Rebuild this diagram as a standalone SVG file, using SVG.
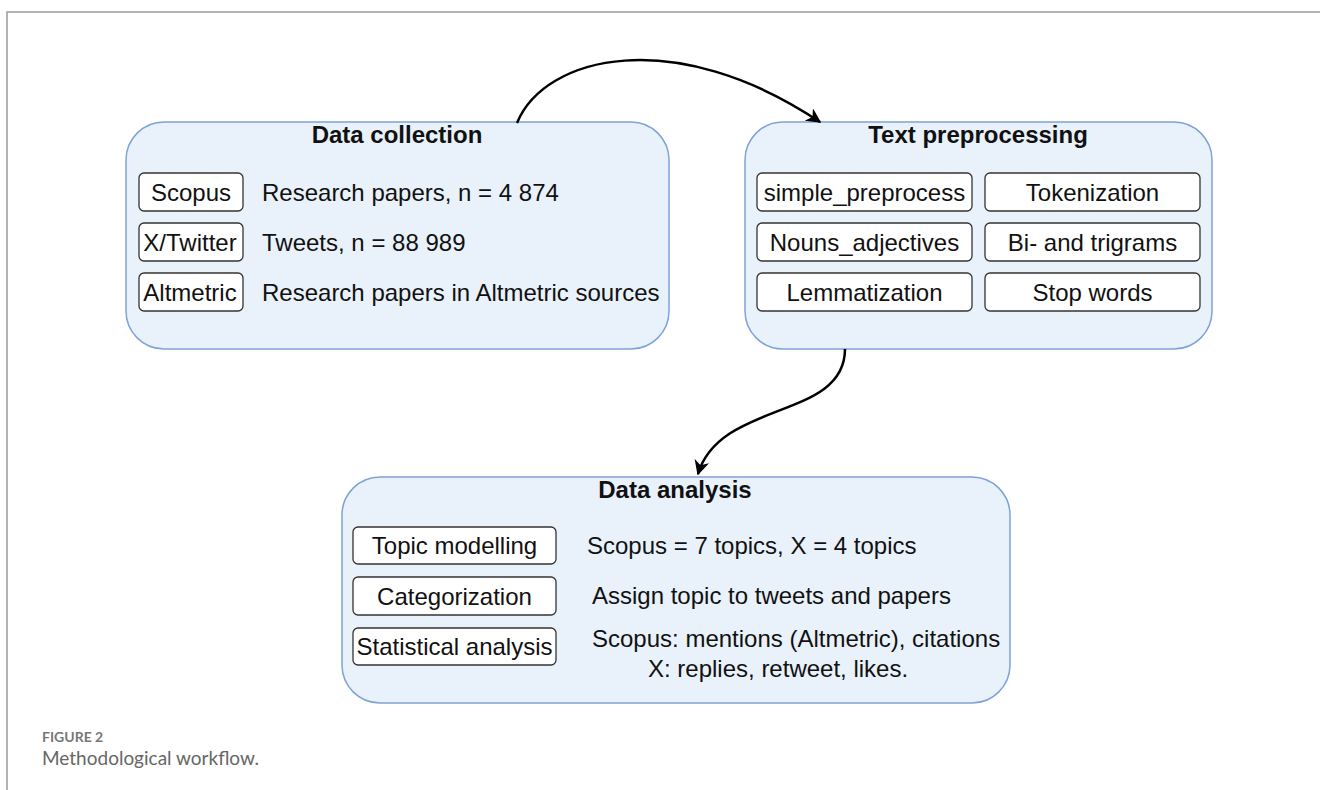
<svg xmlns="http://www.w3.org/2000/svg" width="1320" height="790" viewBox="0 0 1320 790">
<defs>
<style>
.frame{fill:none;stroke:#9a9a9a;stroke-width:1.5}
.grp{fill:#e9f1fb;stroke:#7ea3d6;stroke-width:1.5}
.item{fill:#fff;stroke:#333;stroke-width:1.3}
.t{font-family:"Liberation Sans",Arial,sans-serif;font-size:24px;fill:#111}
.h{font-family:"Liberation Sans",Arial,sans-serif;font-size:24px;font-weight:bold;fill:#111}
.c{text-anchor:middle}
.conn{fill:none;stroke:#000;stroke-width:2.5}
.cap1{font-family:Lato,"Open Sans",sans-serif;font-size:14px;font-weight:bold;fill:#777}
.cap2{font-family:Lato,"Open Sans",sans-serif;font-size:19px;fill:#666}
</style>
<marker id="arr" viewBox="0 0 10 10" refX="9" refY="5" markerWidth="15" markerHeight="15" markerUnits="userSpaceOnUse" orient="auto">
<path d="M0,0 L10,5 L0,10 L3,5 Z" fill="#000"/>
</marker>
</defs>
<rect width="1320" height="790" fill="#fff"/>
<path class="frame" d="M7,790 V12 H1320"/>

<g id="data-collection">
<rect class="grp" x="126" y="122" width="543" height="227" rx="38"/>
<text class="h c" x="397" y="143">Data collection</text>
<rect class="item" x="139" y="173" width="104" height="38" rx="5"/>
<text class="t c" x="191" y="200.5">Scopus</text>
<rect class="item" x="139" y="223" width="104" height="38" rx="5"/>
<text class="t c" x="190" y="251">X/Twitter</text>
<rect class="item" x="139" y="273" width="104" height="38" rx="5"/>
<text class="t c" x="190" y="301">Altmetric</text>
<text class="t" x="262" y="200.5">Research papers, n = 4 874</text>
<text class="t" x="262" y="251">Tweets, n = 88 989</text>
<text class="t" x="262" y="301">Research papers in Altmetric sources</text>
</g>

<g id="text-preprocessing">
<rect class="grp" x="745" y="122" width="467" height="227" rx="38"/>
<text class="h c" x="978" y="143">Text preprocessing</text>
<rect class="item" x="757" y="173" width="215" height="38" rx="5"/>
<text class="t c" x="864.5" y="200.5">simple_preprocess</text>
<rect class="item" x="985" y="173" width="215" height="38" rx="5"/>
<text class="t c" x="1092.5" y="200.5">Tokenization</text>
<rect class="item" x="757" y="223" width="215" height="38" rx="5"/>
<text class="t c" x="864.5" y="251">Nouns_adjectives</text>
<rect class="item" x="985" y="223" width="215" height="38" rx="5"/>
<text class="t c" x="1092.5" y="251">Bi- and trigrams</text>
<rect class="item" x="757" y="273" width="215" height="38" rx="5"/>
<text class="t c" x="864.5" y="301">Lemmatization</text>
<rect class="item" x="985" y="273" width="215" height="38" rx="5"/>
<text class="t c" x="1092.5" y="301">Stop words</text>
</g>

<g id="data-analysis">
<rect class="grp" x="342" y="477" width="668" height="226" rx="38"/>
<text class="h c" x="675" y="498">Data analysis</text>
<rect class="item" x="353" y="527" width="203" height="37" rx="5"/>
<text class="t c" x="454.5" y="554">Topic modelling</text>
<rect class="item" x="353" y="577" width="203" height="38" rx="5"/>
<text class="t c" x="454.5" y="604.5">Categorization</text>
<rect class="item" x="353" y="628" width="203" height="37" rx="5"/>
<text class="t c" x="454.5" y="655">Statistical analysis</text>
<text class="t" x="587" y="554">Scopus = 7 topics, X = 4 topics</text>
<text class="t" x="592" y="604">Assign topic to tweets and papers</text>
<text class="t" x="592" y="647">Scopus: mentions (Altmetric), citations</text>
<text class="t" x="648" y="677">X: replies, retweet, likes.</text>
</g>

<g id="connectors">
<path class="conn" marker-end="url(#arr)" d="M517,123 C545,55 675,25 820,122"/>
<path class="conn" marker-end="url(#arr)" d="M845,349 C845,420 720,400 698,474"/>
</g>

<g id="caption">
<text class="cap1" x="42" y="742">FIGURE 2</text>
<text class="cap2" x="42" y="765">Methodological workflow.</text>
</g>
</svg>
